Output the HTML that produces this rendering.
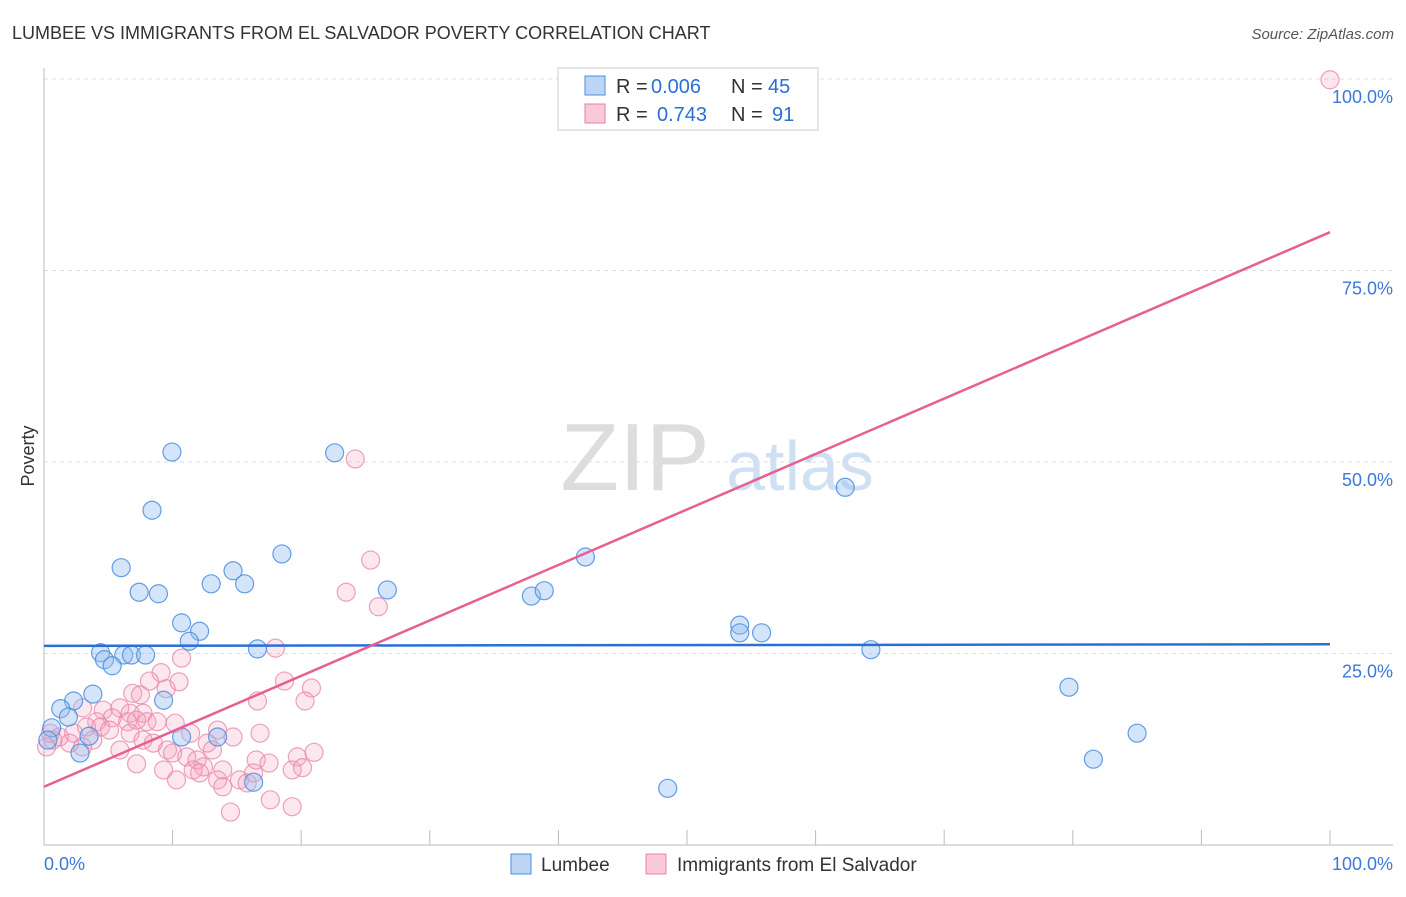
<!DOCTYPE html>
<html><head><meta charset="utf-8"><style>
body{margin:0;background:#fff;font-family:"Liberation Sans",sans-serif;}
svg text{font-family:"Liberation Sans",sans-serif;}
</style></head><body>
<svg id="chart" width="1406" height="892">
<text x="12" y="39" font-size="18" fill="#333">LUMBEE VS IMMIGRANTS FROM EL SALVADOR POVERTY CORRELATION CHART</text>
<text x="1394" y="39" font-size="15" fill="#555" font-style="italic" text-anchor="end">Source: ZipAtlas.com</text>
<text x="635" y="490" font-size="96" fill="#ddd" font-family="Liberation Serif" text-anchor="middle">ZIP</text>
<text x="800" y="490" font-size="70" fill="#cfe0f5" text-anchor="middle">atlas</text>
<text x="34" y="456" font-size="18" fill="#333" transform="rotate(-90 34 456)" text-anchor="middle">Poverty</text>
<g id="grid"></g><g id="marks"></g>
<rect x="558" y="68" width="260" height="62" fill="#fff" stroke="#ccc"/>
<rect x="585" y="76" width="20" height="19" fill="#bcd5f5" stroke="#4a8de0"/>
<rect x="585" y="104" width="20" height="19" fill="#f9c9d8" stroke="#e87fa3"/>
<g font-size="20">
<text x="616" y="93" fill="#333">R =</text><text x="651" y="93" fill="#2a6fd6">0.006</text>
<text x="731" y="93" fill="#333">N =</text><text x="768" y="93" fill="#2a6fd6">45</text>
<text x="616" y="121" fill="#333">R =</text><text x="657" y="121" fill="#2a6fd6">0.743</text>
<text x="731" y="121" fill="#333">N =</text><text x="772" y="121" fill="#2a6fd6">91</text>
</g>
<rect x="511" y="854" width="20" height="20" fill="#bcd5f5" stroke="#4a8de0"/>
<text x="541" y="871" font-size="19" fill="#333">Lumbee</text>
<rect x="646" y="854" width="20" height="20" fill="#f9c9d8" stroke="#e87fa3"/>
<text x="677" y="871" font-size="19" fill="#333">Immigrants from El Salvador</text>
</svg>
<script>
const yTicks=[100,75,50,25];
const yTickLabels=["100.0%","75.0%","50.0%","25.0%"];
const xTickLabels=["0.0%","100.0%"];
const blueX=[9.95,22.6,8.4,62.3,18.5,42.1,6.0,14.7,13.0,15.6,7.4,8.9,26.7,37.9,38.9,10.7,12.1,11.3,54.1,54.1,55.8,16.6,64.3,4.4,4.7,6.2,6.8,7.9,5.3,79.7,3.8,2.3,9.3,1.3,1.9,0.6,3.5,2.8,13.5,10.7,85.0,81.6,48.5,16.3,0.3];
const blueY=[51.3,51.2,43.7,46.7,38.0,37.6,36.2,35.8,34.1,34.1,33.0,32.8,33.3,32.5,33.2,29.0,27.9,26.6,28.7,27.7,27.7,25.6,25.5,25.1,24.2,24.8,24.8,24.8,23.4,20.6,19.7,18.8,18.9,17.8,16.7,15.3,14.2,12.0,14.1,14.1,14.6,11.2,7.4,8.2,13.7];
const pinkX=[18.0,10.7,9.1,8.2,10.5,9.5,18.7,20.8,20.3,16.6,6.9,7.5,3.0,4.6,5.9,6.7,7.7,5.3,4.1,3.3,4.4,5.1,6.5,7.2,8.0,8.8,10.2,11.4,13.5,14.7,16.8,2.3,1.2,0.7,2.0,3.0,3.8,6.7,7.7,8.5,9.6,5.9,10.0,11.1,12.7,13.1,11.9,12.4,11.6,12.1,7.2,9.3,10.3,13.9,13.5,13.9,15.2,15.8,16.3,16.5,17.5,19.7,21.0,19.3,20.1,17.6,19.3,14.5,0.2,0.5,100,24.2,25.4,23.5,26.0];
const pinkY=[25.7,24.4,22.5,21.4,21.3,20.4,21.4,20.5,18.8,18.8,19.8,19.6,17.9,17.6,17.9,17.2,17.2,16.6,16.1,15.4,15.4,15.0,16.1,16.3,16.1,16.1,15.9,14.6,15.0,14.1,14.6,14.6,14.1,13.7,13.3,12.8,13.7,14.6,13.7,13.3,12.4,12.4,12.0,11.5,13.3,12.4,11.1,10.2,9.8,9.4,10.6,9.8,8.5,9.8,8.5,7.6,8.5,8.1,9.4,11.1,10.7,11.5,12.1,9.8,10.1,5.9,5.0,4.3,12.8,14.6,99.9,50.4,37.2,33.0,31.1];
const blueTrend=[26.0,26.2];
const pinkTrend=[7.6,80.0];
const X0=44,X1=1330,Y0=845,Y100=79;
const sx=v=>X0+(X1-X0)*v/100, sy=v=>Y0-(Y0-Y100)*v/100;
const NS="http://www.w3.org/2000/svg";
const grid=document.getElementById('grid'), marks=document.getElementById('marks');
function mk(tag,attrs,parent){const e=document.createElementNS(NS,tag);for(const k in attrs)e.setAttribute(k,attrs[k]);parent.appendChild(e);return e;}
yTicks.forEach((t,i)=>{
 const l=mk('line',{x1:X0,x2:1393,y1:sy(t),y2:sy(t),stroke:'#ddd','stroke-dasharray':'4,4'},grid);
 
 
 const tx=mk('text',{x:1393,y:sy(t)+24,'font-size':18,fill:'#3b78d8','text-anchor':'end'},grid);
 tx.textContent=yTickLabels[i];
 
 
});
const ax=mk('line',{x1:X0,x2:X0,y1:68,y2:Y0,stroke:'#bbb'},grid);


const bx=mk('line',{x1:X0,x2:1393,y1:Y0,y2:Y0,stroke:'#bbb'},grid);


for(let i=1;i<=10;i++){const t=mk('line',{x1:sx(i*10),x2:sx(i*10),y1:830,y2:Y0,stroke:'#bbb'},grid);
 
 }
[[0,'start',44],[100,'end',1393]].forEach((a,i)=>{const t=mk('text',{x:a[2],y:870,'font-size':18,fill:'#3b78d8','text-anchor':a[1]},grid);t.textContent=xTickLabels[i];
 
 });
pinkX.forEach((x,i)=>{const c=mk('circle',{cx:sx(x),cy:sy(pinkY[i]),r:9,fill:'rgba(244,160,188,0.25)',stroke:'rgba(233,138,171,0.8)','stroke-width':1.2},marks);
 
 });
blueX.forEach((x,i)=>{const c=mk('circle',{cx:sx(x),cy:sy(blueY[i]),r:9,fill:'rgba(150,190,240,0.4)',stroke:'rgba(74,141,224,0.85)','stroke-width':1.2},marks);
 
 });
const bl=mk('line',{x1:sx(0),x2:sx(100),y1:sy(blueTrend[0]),y2:sy(blueTrend[1]),stroke:'#2a6fd6','stroke-width':2.5},marks);


const pl=mk('line',{x1:sx(0),x2:sx(100),y1:sy(pinkTrend[0]),y2:sy(pinkTrend[1]),stroke:'#e8608f','stroke-width':2.5},marks);


</script>
</body></html>
